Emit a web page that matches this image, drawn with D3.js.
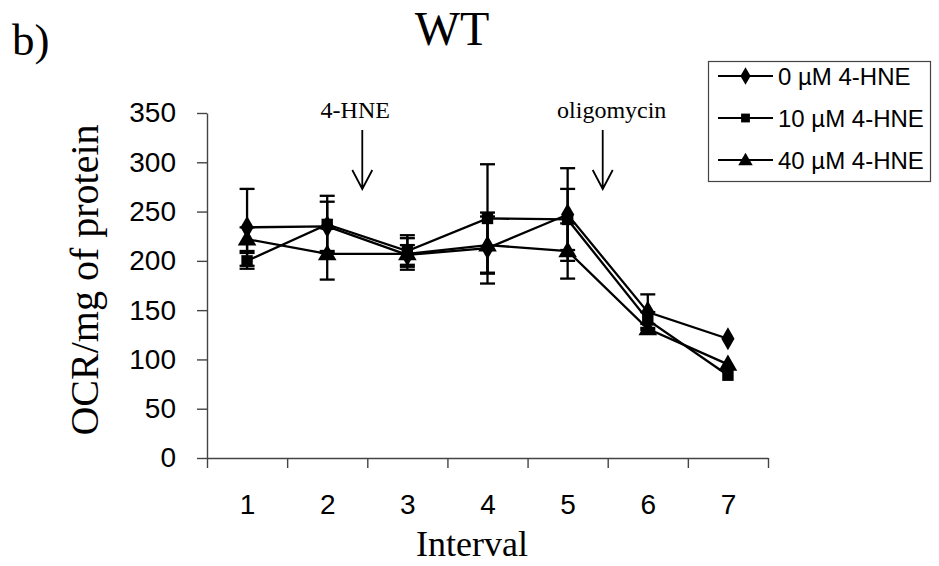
<!DOCTYPE html>
<html><head><meta charset="utf-8">
<script src="https://cdn.jsdelivr.net/npm/d3@7"></script>
<style>body{margin:0;background:#fff}svg{display:block}</style>
</head><body>
<svg id="c" width="939" height="566"></svg>
<script>
const categories = [1, 2, 3, 4, 5, 6, 7];
const seriesNames = ["0 µM 4-HNE", "10 µM 4-HNE", "40 µM 4-HNE"];
const values0 = [234, 235, 206, 213, 247, 148, 121];
const values10 = [200, 237, 210, 243, 242, 140, 84];
const values40 = [222, 207, 207, 216, 210, 131, 95];
const err0 = [39, 25, 10, 36, 47, 18, 0];
const err10 = [8, 29, 16, 55, 31, 8, 0];
const err40 = [12, 26, 16, 29, 28, 5, 0];
const yTicks = [0, 50, 100, 150, 200, 250, 300, 350];
const markerTypes = ["diamond", "square", "triangle"];
const annotations = [{text: "4-HNE", at: 2.5}, {text: "oligomycin", at: 5.5}];

const series = [
  {name: seriesNames[0], values: values0, err: err0, marker: markerTypes[0]},
  {name: seriesNames[1], values: values10, err: err10, marker: markerTypes[1]},
  {name: seriesNames[2], values: values40, err: err40, marker: markerTypes[2]}
];

const svg = d3.select("#c");
const L = 207, R = 768, T = 113, B = 458;
const x = d3.scaleLinear().domain([0.5, 7.5]).range([L, R]);
const y = d3.scaleLinear().domain([0, 350]).range([B, T]);
const axisColor = "#444";

// Y axis
const gy = svg.append("g").attr("transform", `translate(${L},0)`)
  .call(d3.axisLeft(y).tickValues(yTicks).tickSize(10).tickPadding(21).tickSizeOuter(0));
gy.select(".domain").attr("stroke", axisColor).attr("stroke-width", 1.4);
gy.selectAll(".tick line").attr("stroke", axisColor).attr("stroke-width", 1.4);
gy.selectAll(".tick text").attr("font-family", "Liberation Sans, Arial, sans-serif")
  .attr("font-size", 28).attr("fill", "#000");

// X axis tick marks at category boundaries
const edges = d3.range(0.5, 8, 1);
const gxt = svg.append("g").attr("transform", `translate(0,${B})`)
  .call(d3.axisBottom(x).tickValues(edges).tickSize(10).tickFormat("").tickSizeOuter(0));
gxt.select(".domain").attr("stroke", axisColor).attr("stroke-width", 1.4);
gxt.selectAll(".tick line").attr("stroke", axisColor).attr("stroke-width", 1.4);
// X labels at category centers
const gxl = svg.append("g").attr("transform", `translate(0,${B})`)
  .call(d3.axisBottom(x).tickValues(categories).tickSize(0).tickPadding(36).tickFormat(d3.format("d")));
gxl.select(".domain").remove();
gxl.selectAll(".tick text").attr("font-family", "Liberation Sans, Arial, sans-serif")
  .attr("font-size", 28).attr("fill", "#000");

// Titles
const serif = "Liberation Serif, Times New Roman, serif";
svg.append("text").attr("x", 452).attr("y", 45).attr("text-anchor", "middle")
  .attr("font-family", serif).attr("font-size", 48).text("WT");
svg.append("text").attr("x", 12).attr("y", 55)
  .attr("font-family", serif).attr("font-size", 45).text("b)");
svg.append("text").attr("x", 472).attr("y", 556).attr("text-anchor", "middle")
  .attr("font-family", serif).attr("font-size", 36).text("Interval");
svg.append("text").attr("transform", `translate(98,280) rotate(-90)`)
  .attr("text-anchor", "middle").attr("font-family", serif).attr("font-size", 40)
  .text("OCR/mg of protein");

// Annotations with arrows
annotations.forEach(a => {
  const ax = x(a.at) - 5;
  svg.append("text").attr("x", ax - 7 + (a.text === "oligomycin" ? 16 : 0)).attr("y", 118)
    .attr("text-anchor", "middle").attr("font-family", serif).attr("font-size", 24).text(a.text);
  svg.append("path").attr("d", `M${ax},130 L${ax},189 M${ax - 10},170 L${ax},189 L${ax + 10},170`)
    .attr("fill", "none").attr("stroke", "#000").attr("stroke-width", 1.8);
});

const symbolFor = m => m === "diamond" ? d3.symbolDiamond : (m === "square" ? d3.symbolSquare : d3.symbolTriangle);
const sizeFor = m => m === "diamond" ? 150 : (m === "square" ? 130 : 150);

const line = d3.line().x((d, i) => x(categories[i])).y(d => y(d));

// lines
series.forEach(s => {
  svg.append("path").datum(s.values).attr("d", line)
    .attr("fill", "none").attr("stroke", "#000").attr("stroke-width", 2.3);
});
// error bars
series.forEach(s => {
  const g = svg.append("g").attr("stroke", "#000").attr("stroke-width", 2.3);
  s.values.forEach((v, i) => {
    if (!s.err[i]) return;
    const cx = x(categories[i]);
    const y1 = y(v + s.err[i]), y2 = y(v - s.err[i]);
    g.append("line").attr("x1", cx).attr("x2", cx).attr("y1", y1).attr("y2", y2);
    g.append("line").attr("x1", cx - 7.5).attr("x2", cx + 7.5).attr("y1", y1).attr("y2", y1);
    g.append("line").attr("x1", cx - 7.5).attr("x2", cx + 7.5).attr("y1", y2).attr("y2", y2);
  });
});
// markers
series.forEach(s => {
  svg.append("g").selectAll("path").data(s.values).join("path")
    .attr("transform", (d, i) => `translate(${x(categories[i])},${y(d) + (s.marker === "triangle" ? 1 : 0)})`)
    .attr("d", d3.symbol().type(symbolFor(s.marker)).size(sizeFor(s.marker)))
    .attr("fill", "#000");
});

// Legend
const lg = svg.append("g");
lg.append("rect").attr("x", 708.5).attr("y", 61.5).attr("width", 222).attr("height", 120)
  .attr("fill", "#fff").attr("stroke", "#444").attr("stroke-width", 1.2);
series.forEach((s, i) => {
  const ly = 76 + i * 42;
  lg.append("line").attr("x1", 718).attr("x2", 773).attr("y1", ly).attr("y2", ly)
    .attr("stroke", "#000").attr("stroke-width", 2);
  lg.append("path").attr("transform", `translate(745.5,${ly + (s.marker === "triangle" ? 1 : 0)})`)
    .attr("d", d3.symbol().type(symbolFor(s.marker)).size(sizeFor(s.marker) * 0.6)).attr("fill", "#000");
  lg.append("text").attr("x", 778).attr("y", ly + 9).attr("font-family", "Liberation Sans, Arial, sans-serif")
    .attr("font-size", 24).text(s.name);
});
</script>
</body></html>
